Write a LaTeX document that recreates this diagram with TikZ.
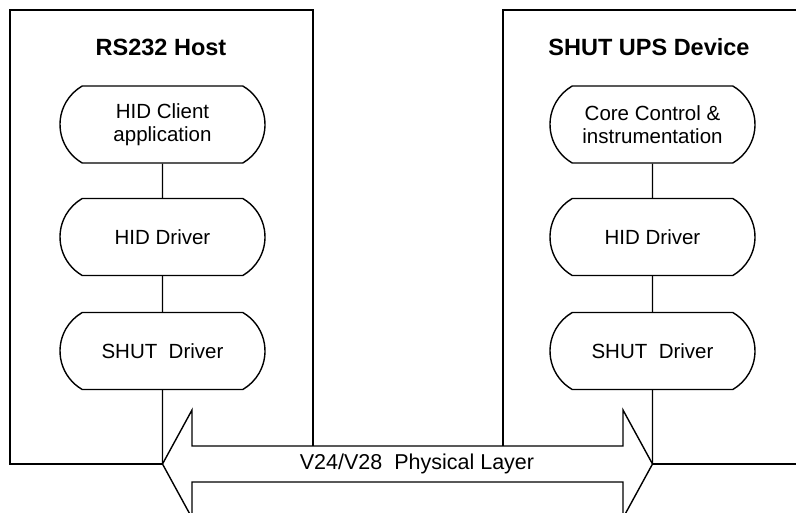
\documentclass[tikz,border=0pt]{standalone}
\usepackage{fontspec}
\setmainfont{Liberation Sans}
\usetikzlibrary{shapes.misc}
\begin{document}
\begin{tikzpicture}[x=1pt,y=-1pt,line width=1.4pt,
  layer/.style={draw, rounded rectangle, rounded rectangle arc length=120,
    minimum width=205pt, minimum height=77pt, inner sep=0pt, align=center,
    font=\fontsize{20.5}{22.5}\selectfont},
  title/.style={font=\fontsize{23.5}{26}\selectfont\bfseries},
  link/.style={draw}]
\useasboundingbox (0,0) rectangle (796,513);
\clip (0,0) rectangle (796,513);
% enclosing boxes
\draw (10,10) rectangle (313,464);
\draw (503,10) rectangle (820,464);
\node[title] (ht) at (161,47) {RS232 Host};
\node[title] (dt) at (649,47) {SHUT UPS Device};
% host stack
\node[layer] (hc) at (162.5,124.5) {HID Client\\application};
\node[layer] (hh) at (162.5,237) {HID Driver};
\node[layer] (hs) at (162.5,351) {SHUT\ \ Driver};
% device stack
\node[layer] (dc) at (652.5,124.5) {Core Control \&\\instrumentation};
\node[layer] (dh) at (652.5,237) {HID Driver};
\node[layer] (ds) at (652.5,351) {SHUT\ \ Driver};
\coordinate (lt) at (162.5,464);
\coordinate (rt) at (652.5,464);
% physical layer double arrow
\draw[fill=white] (lt) -- (192,410) -- (192,446) -- (623,446) -- (623,410)
  -- (rt) -- (623,518) -- (623,482) -- (192,482) -- (192,518) -- cycle;
\node[font=\fontsize{21.5}{24}\selectfont] (pl) at (417,464) {V24/V28\ \ Physical Layer};
% connectors
\draw[link] (hc) -- (hh);
\draw[link] (hh) -- (hs);
\draw[link] (hs) -- (lt);
\draw[link] (dc) -- (dh);
\draw[link] (dh) -- (ds);
\draw[link] (ds) -- (rt);
\end{tikzpicture}
\end{document}
